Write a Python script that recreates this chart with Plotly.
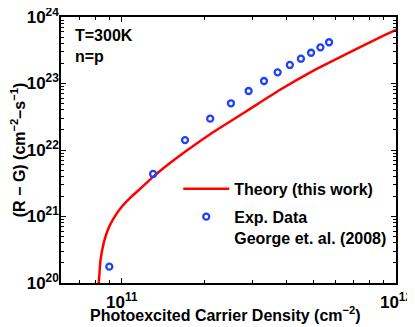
import plotly.graph_objects as go

# theory curve
theory_n = [8.19e10, 8.232e10, 8.356e10, 8.597e10, 8.967e10, 9.454e10, 1.0025e11, 1.072e11,
            1.166e11, 1.300e11, 1.463e11, 1.701e11, 2.151e11, 2.863e11, 3.777e11, 4.983e11,
            6.628e11, 8.744e11, 1.006e12]
theory_rg = [9.0e19, 9.9e19, 2.195e20, 4.09e20, 6.88e20, 1.024e21, 1.424e21, 1.911e21,
             2.61e21, 3.95e21, 5.89e21, 9.40e21, 1.846e22, 3.886e22, 8.04e22, 1.552e23,
             2.817e23, 4.95e23, 6.46e23]

# experimental points, George et. al. (2008)
exp_n = [0.9e11, 1.3e11, 1.7e11, 2.1e11, 2.5e11, 2.9e11, 3.3e11, 3.7e11, 4.1e11,
         4.5e11, 4.9e11, 5.3e11, 5.7e11]
exp_rg = [1.76e20, 4.36e21, 1.41e22, 2.96e22, 5.04e22, 7.71e22, 1.09e23, 1.47e23,
          1.90e23, 2.36e23, 2.90e23, 3.50e23, 4.17e23]

x_ticks = [1e11, 1e12]
x_ticktext = ['10<sup>11</sup>', '10<sup>12</sup>']
y_ticks = [1e20, 1e21, 1e22, 1e23, 1e24]
y_ticktext = ['10<sup>20</sup>', '10<sup>21</sup>', '10<sup>22</sup>', '10<sup>23</sup>', '10<sup>24</sup>']

x_minor = [m * 10.0 ** e for e in (10, 11) for m in range(2, 10) if 6e10 <= m * 10.0 ** e < 1e12]
y_minor = [m * 10.0 ** e for e in (20, 21, 22, 23) for m in range(2, 10)]

FONT = 'Liberation Sans, Arial, Helvetica, sans-serif'
BOLD = dict(family=FONT, size=16, color='black', weight='bold')

fig = go.Figure()
fig.add_trace(go.Scatter(
    x=theory_n, y=theory_rg, mode='lines', name='Theory (this work)',
    line=dict(color='#ff0000', width=2.5, shape='spline', smoothing=0.6),
    legendgroup='a',
))
fig.add_trace(go.Scatter(
    x=exp_n, y=exp_rg, mode='markers', name='Exp. Data<br>George et. al. (2008)',
    marker=dict(symbol='circle-open', size=6, color='#2040ff', line=dict(width=2.3, color='#2040ff')),
    legendgroup='b',
))

axis_common = dict(
    type='log', showgrid=False, zeroline=False, automargin=False,
    showline=True, linecolor='black', linewidth=1.5, mirror='allticks',
    ticks='inside', ticklen=5, tickwidth=1, tickcolor='black',
    tickfont=dict(family=FONT, size=17, color='black', weight='bold'),
    tickmode='array', ticklabeloverflow='allow',
)

# page body has an 8px margin, so the figure is 8px smaller each way
fig.update_layout(
    width=407, height=319,
    margin=dict(l=53, r=19, t=9, b=44),
    paper_bgcolor='white', plot_bgcolor='white',
    font=dict(family=FONT, size=16, color='black'),
    xaxis=dict(
        axis_common, range=[10.778, 12], tickvals=x_ticks, ticktext=x_ticktext,
        ticklabelstandoff=3,
        minor=dict(tickvals=x_minor, ticks='inside', ticklen=3, tickcolor='black'),
    ),
    yaxis=dict(
        axis_common, range=[20, 24], tickvals=y_ticks, ticktext=y_ticktext,
        ticklabelstandoff=-3,
        minor=dict(tickvals=y_minor, ticks='inside', ticklen=3, tickcolor='black'),
        title=dict(text='(R − G) (cm<sup>−2</sup>–s<sup>−1</sup>)', standoff=2, font=BOLD),
    ),
    legend=dict(
        x=0.35, y=0.4175, xanchor='left', yanchor='top',
        bgcolor='rgba(0,0,0,0)', borderwidth=0, valign='top',
        traceorder='grouped', tracegroupgap=4, itemwidth=46,
        font=BOLD,
    ),
    showlegend=True,
)

# x title as annotation so it sits close under the tick labels
fig.add_annotation(
    text='Photoexcited Carrier Density (cm<sup>−2</sup>)', xref='paper', yref='paper',
    x=0.49, y=-0.115, xanchor='center', yanchor='middle', showarrow=False, font=BOLD,
)
fig.add_annotation(
    text='T=300K', xref='paper', yref='paper', x=0.035, y=0.93,
    xanchor='left', yanchor='middle', showarrow=False, font=BOLD,
)
fig.add_annotation(
    text='n=p', xref='paper', yref='paper', x=0.035, y=0.85,
    xanchor='left', yanchor='middle', showarrow=False, font=BOLD,
)

fig.write_html('out.html')
